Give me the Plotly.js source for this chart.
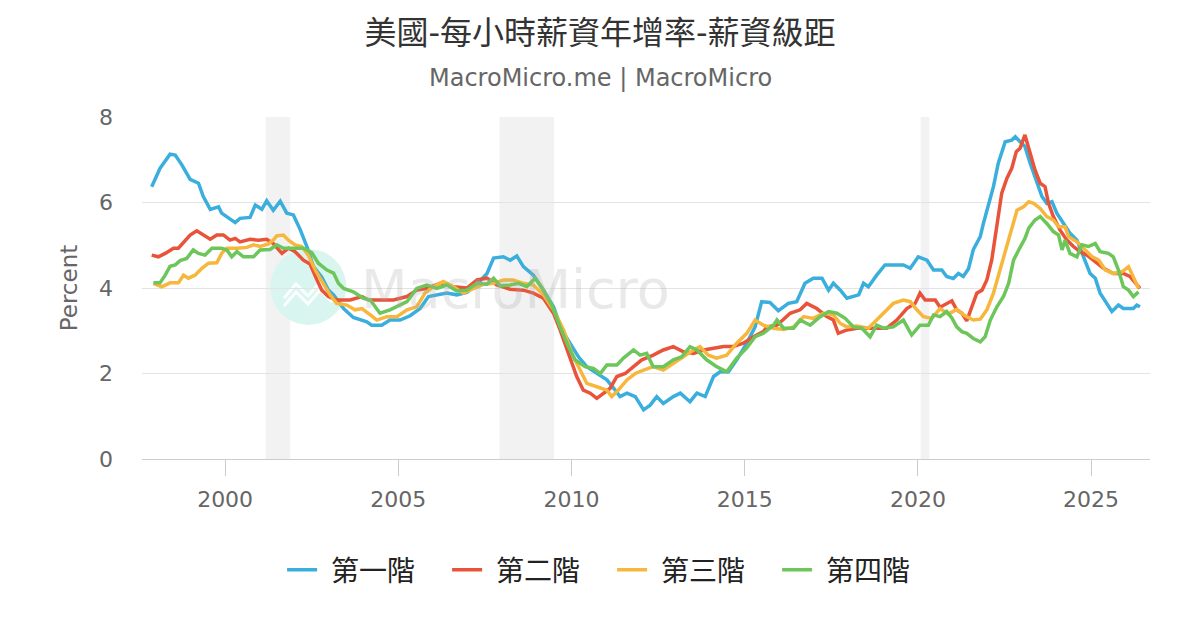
<!DOCTYPE html>
<html>
<head>
<meta charset="utf-8">
<script src="https://cdn.plot.ly/plotly-3.0.1.min.js"></script>
<style>
  html, body { margin: 0; padding: 0; background: #fff; }
  #chart { width: 1200px; height: 630px; }
</style>
</head>
<body>
<div id="chart"></div>
<script>
const FONT = "DejaVu Sans, Noto Sans CJK TC, sans-serif";

const seriesNames = ["第一階", "第二階", "第三階", "第四階"];
const seriesColors = ["#3aaedc", "#e8533a", "#f6b73c", "#6cc65a"];

// 第一階
const tier1X = [1997.88,1998.12,1998.41,1998.56,1998.75,1998.99,1999.23,1999.37,1999.57,1999.81,1999.90,2000.10,2000.29,2000.43,2000.72,2000.87,2001.06,2001.20,2001.39,2001.59,2001.78,2001.97,2002.17,2002.36,2002.55,2002.79,2002.98,2003.13,2003.42,2003.70,2004.09,2004.23,2004.52,2004.76,2005.05,2005.34,2005.63,2005.87,2006.11,2006.40,2006.69,2006.98,2007.27,2007.56,2007.75,2008.03,2008.23,2008.42,2008.61,2008.90,2009.19,2009.48,2009.72,2009.96,2010.20,2010.44,2010.73,2011.02,2011.26,2011.40,2011.60,2011.84,2012.08,2012.27,2012.46,2012.65,2012.94,2013.14,2013.42,2013.62,2013.86,2014.10,2014.29,2014.53,2014.77,2015.06,2015.30,2015.49,2015.73,2015.97,2016.26,2016.50,2016.74,2016.98,2017.23,2017.42,2017.56,2017.76,2017.95,2018.29,2018.43,2018.57,2018.81,2019.05,2019.34,2019.58,2019.78,2020.01,2020.26,2020.45,2020.69,2020.83,2021.02,2021.17,2021.31,2021.46,2021.60,2021.80,2021.89,2022.04,2022.18,2022.32,2022.52,2022.71,2022.81,2022.95,2023.09,2023.24,2023.43,2023.58,2023.72,2023.87,2024.01,2024.20,2024.39,2024.59,2024.78,2024.97,2025.12,2025.26,2025.45,2025.60,2025.79,2025.93,2026.22,2026.32,2026.41];
const tier1Y = [6.37,6.80,7.13,7.11,6.88,6.54,6.45,6.14,5.84,5.90,5.75,5.63,5.53,5.63,5.65,5.94,5.84,6.04,5.82,6.03,5.75,5.71,5.36,4.97,4.50,4.25,3.95,3.84,3.52,3.31,3.21,3.13,3.13,3.25,3.25,3.35,3.52,3.80,3.84,3.88,3.84,3.90,4.09,4.34,4.70,4.73,4.65,4.75,4.50,4.30,3.95,3.56,3.02,2.71,2.39,2.16,2.00,1.85,1.61,1.46,1.54,1.46,1.15,1.26,1.46,1.30,1.46,1.54,1.34,1.54,1.46,1.93,2.04,2.04,2.32,2.71,3.09,3.68,3.66,3.47,3.64,3.68,4.11,4.23,4.23,3.95,4.11,3.95,3.76,3.84,4.11,4.03,4.30,4.54,4.54,4.54,4.46,4.73,4.65,4.42,4.42,4.27,4.22,4.34,4.27,4.45,4.90,5.20,5.51,5.98,6.37,6.92,7.42,7.46,7.54,7.42,7.31,6.92,6.45,6.14,5.98,6.02,5.75,5.51,5.28,5.12,4.73,4.34,4.23,3.88,3.64,3.45,3.60,3.52,3.52,3.60,3.56];

// 第二階
const tier2X = [1997.88,1998.07,1998.27,1998.51,1998.65,1998.85,1998.99,1999.18,1999.37,1999.57,1999.76,1999.95,2000.14,2000.29,2000.43,2000.72,2000.96,2001.20,2001.39,2001.64,2001.83,2002.02,2002.26,2002.45,2002.65,2002.79,2002.98,2003.22,2003.61,2003.95,2004.14,2004.47,2004.86,2005.25,2005.53,2005.82,2006.21,2006.59,2006.98,2007.27,2007.56,2007.84,2008.23,2008.61,2008.90,2009.19,2009.48,2009.67,2009.96,2010.15,2010.34,2010.54,2010.73,2010.92,2011.11,2011.31,2011.55,2011.79,2012.03,2012.36,2012.65,2012.94,2013.23,2013.52,2013.81,2014.10,2014.39,2014.67,2014.96,2015.25,2015.54,2015.64,2015.93,2016.10,2016.31,2016.60,2016.79,2017.08,2017.37,2017.56,2017.70,2017.95,2018.24,2018.52,2018.81,2019.10,2019.39,2019.68,2019.92,2020.06,2020.21,2020.50,2020.64,2020.83,2020.98,2021.12,2021.27,2021.41,2021.56,2021.70,2021.85,2021.99,2022.13,2022.28,2022.42,2022.57,2022.71,2022.84,2022.95,2023.09,2023.24,2023.38,2023.53,2023.67,2023.77,2023.91,2024.10,2024.30,2024.49,2024.68,2024.88,2025.07,2025.36,2025.64,2025.93,2026.12,2026.32,2026.41];
const tier2Y = [4.77,4.73,4.81,4.93,4.93,5.12,5.24,5.34,5.24,5.14,5.24,5.24,5.12,5.16,5.08,5.14,5.12,5.14,5.04,4.81,4.93,4.85,4.65,4.56,4.19,3.95,3.80,3.72,3.72,3.80,3.72,3.72,3.72,3.80,3.95,3.99,4.11,4.03,4.00,4.19,4.23,4.07,3.97,3.95,3.88,3.76,3.41,3.02,2.39,1.93,1.61,1.54,1.42,1.54,1.65,1.93,2.00,2.16,2.32,2.43,2.55,2.63,2.51,2.47,2.55,2.59,2.63,2.63,2.71,2.86,2.98,3.09,3.13,3.25,3.41,3.49,3.64,3.52,3.33,3.25,2.94,3.02,3.06,3.06,3.06,3.06,3.25,3.52,3.64,3.88,3.72,3.72,3.55,3.64,3.70,3.49,3.41,3.23,3.56,3.88,3.95,4.19,4.65,5.43,6.22,6.57,6.80,7.19,7.27,7.58,7.15,6.76,6.45,6.37,5.98,5.67,5.36,5.12,4.97,4.85,4.77,4.65,4.46,4.34,4.34,4.27,4.07,3.99];

// 第三階
const tier3X = [1997.93,1998.17,1998.41,1998.65,1998.80,1998.94,1999.13,1999.33,1999.52,1999.76,1999.90,2000.05,2000.34,2000.63,2000.82,2001.01,2001.25,2001.39,2001.49,2001.68,2001.83,2002.02,2002.21,2002.40,2002.60,2002.79,2003.03,2003.22,2003.51,2003.75,2003.95,2004.19,2004.38,2004.67,2004.96,2005.25,2005.53,2005.77,2006.01,2006.30,2006.59,2006.88,2007.17,2007.46,2007.75,2008.03,2008.32,2008.61,2008.90,2009.19,2009.48,2009.77,2010.01,2010.25,2010.44,2010.73,2011.02,2011.16,2011.35,2011.60,2011.84,2012.08,2012.36,2012.65,2012.94,2013.23,2013.52,2013.71,2013.95,2014.19,2014.48,2014.77,2015.06,2015.30,2015.54,2015.83,2016.12,2016.41,2016.70,2016.98,2017.27,2017.56,2017.76,2017.95,2018.24,2018.57,2018.81,2019.05,2019.29,2019.58,2019.78,2019.97,2020.16,2020.40,2020.64,2020.88,2021.12,2021.36,2021.60,2021.80,2021.99,2022.18,2022.37,2022.57,2022.71,2022.86,2023.05,2023.20,2023.34,2023.53,2023.72,2023.91,2024.06,2024.25,2024.35,2024.59,2024.83,2025.03,2025.22,2025.41,2025.64,2025.89,2026.08,2026.22,2026.37];
const tier3Y = [4.11,4.03,4.12,4.12,4.30,4.23,4.30,4.46,4.58,4.59,4.81,4.93,4.93,4.95,5.01,4.97,5.03,5.12,5.22,5.24,5.12,5.01,4.97,4.77,4.42,4.15,3.84,3.64,3.60,3.49,3.52,3.37,3.25,3.33,3.33,3.49,3.56,3.88,4.03,4.15,4.03,3.88,3.99,4.09,4.11,4.19,4.19,4.11,4.07,3.84,3.49,3.02,2.47,2.08,1.77,1.69,1.61,1.46,1.61,1.85,2.00,2.08,2.16,2.08,2.24,2.39,2.55,2.63,2.43,2.36,2.43,2.71,2.94,3.25,3.13,3.06,3.03,3.09,3.33,3.29,3.41,3.37,3.17,3.09,3.11,3.06,3.25,3.45,3.64,3.72,3.68,3.49,3.33,3.29,3.52,3.39,3.50,3.35,3.25,3.27,3.49,3.88,4.42,4.97,5.43,5.82,5.90,6.02,5.98,5.86,5.67,5.59,5.43,5.43,5.20,5.08,4.89,4.73,4.65,4.42,4.34,4.38,4.50,4.27,3.99];

// 第四階
const tier4X = [1997.93,1998.12,1998.27,1998.41,1998.56,1998.70,1998.89,1999.08,1999.23,1999.42,1999.62,1999.90,2000.05,2000.19,2000.34,2000.53,2000.82,2001.01,2001.30,2001.49,2001.68,2001.97,2002.26,2002.50,2002.69,2002.94,2003.13,2003.27,2003.42,2003.70,2003.99,2004.19,2004.47,2004.76,2004.96,2005.25,2005.53,2005.82,2006.11,2006.40,2006.69,2006.98,2007.27,2007.56,2007.75,2007.94,2008.23,2008.47,2008.71,2008.95,2009.19,2009.43,2009.67,2009.91,2010.10,2010.39,2010.63,2010.83,2011.02,2011.31,2011.50,2011.79,2011.98,2012.17,2012.36,2012.65,2012.94,2013.18,2013.42,2013.62,2013.90,2014.19,2014.48,2014.77,2015.06,2015.30,2015.54,2015.83,2015.93,2016.12,2016.41,2016.60,2016.89,2017.18,2017.42,2017.66,2017.90,2018.14,2018.38,2018.62,2018.81,2019.01,2019.29,2019.58,2019.82,2020.06,2020.30,2020.45,2020.64,2020.83,2020.98,2021.12,2021.27,2021.41,2021.60,2021.80,2021.94,2022.09,2022.28,2022.47,2022.62,2022.76,2022.91,2023.09,2023.20,2023.38,2023.53,2023.72,2023.91,2024.06,2024.16,2024.25,2024.39,2024.59,2024.73,2024.92,2025.12,2025.26,2025.50,2025.64,2025.79,2025.93,2026.08,2026.22,2026.37];
const tier4Y = [4.12,4.12,4.30,4.51,4.54,4.64,4.69,4.89,4.81,4.77,4.93,4.93,4.89,4.73,4.85,4.73,4.73,4.89,4.90,5.01,4.93,4.93,4.93,4.83,4.58,4.42,4.35,4.11,3.99,3.91,3.76,3.72,3.41,3.49,3.56,3.68,3.99,4.07,3.99,4.07,3.93,3.95,4.11,4.09,4.23,4.05,4.07,4.11,4.03,4.23,3.95,3.60,3.09,2.63,2.32,2.16,2.12,2.00,2.20,2.20,2.36,2.55,2.43,2.47,2.16,2.16,2.32,2.39,2.63,2.55,2.32,2.16,2.04,2.36,2.60,2.86,2.94,3.13,3.25,3.06,3.06,3.25,3.13,3.33,3.45,3.41,3.29,3.09,3.06,2.86,3.13,3.06,3.09,3.25,2.90,3.13,3.13,3.37,3.33,3.45,3.30,3.09,2.98,2.94,2.82,2.74,2.86,3.25,3.56,3.80,4.11,4.65,4.89,5.16,5.40,5.59,5.67,5.51,5.32,5.24,4.89,5.12,4.81,4.73,5.01,4.97,5.04,4.85,4.81,4.73,4.42,4.03,3.95,3.80,3.91];

// recession periods (start, end)
const recessionStart = [2001.17, 2007.92, 2020.08];
const recessionEnd = [2001.88, 2009.50, 2020.33];

const xTicks = [2000, 2005, 2010, 2015, 2020, 2025];

const allX = [tier1X, tier2X, tier3X, tier4X];
const allY = [tier1Y, tier2Y, tier3Y, tier4Y];

// page centre (600px) expressed in plot-area fraction
const PAGE_MID = (600 - 142) / 1008;

const traces = seriesNames.map((name, i) => ({
  x: allX[i],
  y: allY[i],
  type: "scatter",
  mode: "lines",
  name: "\u00a0" + name,
  line: { color: seriesColors[i], width: 3.5 },
  hoverinfo: "skip"
}));

const shapes = recessionStart.map((s, i) => ({
  type: "rect",
  xref: "x",
  yref: "paper",
  x0: s,
  x1: recessionEnd[i],
  y0: 0,
  y1: 1,
  fillcolor: "#f2f2f2",
  line: { width: 0 },
  layer: "below"
}));

// watermark badge
shapes.push({
  type: "circle",
  xref: "paper",
  yref: "paper",
  xsizemode: "pixel",
  ysizemode: "pixel",
  xanchor: 0.165,
  yanchor: 0.503,
  x0: -38, x1: 38, y0: -38, y1: 38,
  fillcolor: "#d8f5ef",
  line: { width: 0 },
  layer: "below"
});
// little mountain mark inside the badge
["M0.1409,0.4708 L0.1528,0.5117 L0.1647,0.4766 L0.1766,0.5175 L0.1885,0.4825",
 "M0.1409,0.4474 L0.1528,0.4883 L0.1647,0.4532 L0.1766,0.4941 L0.1885,0.4591"].forEach(p => {
  shapes.push({
    type: "path", xref: "paper", yref: "paper", path: p,
    line: { color: "rgba(255,255,255,0.9)", width: 3 }, layer: "below"
  });
});

const layout = {
  width: 1200,
  height: 630,
  paper_bgcolor: "#ffffff",
  plot_bgcolor: "#ffffff",
  margin: { l: 142, r: 50, t: 117, b: 171 },
  font: { family: FONT, color: "#666" },
  title: {
    text: "美國-每小時薪資年增率-薪資級距",
    x: 0.5,
    xanchor: "center",
    xref: "container",
    yref: "container",
    y: 0.948,
    yanchor: "middle",
    font: { size: 32, color: "#333", family: FONT }
  },
  annotations: [
    {
      text: "MacroMicro.me | MacroMicro",
      xref: "paper", yref: "paper",
      x: PAGE_MID, y: 1.114,
      xanchor: "center", yanchor: "middle",
      showarrow: false,
      font: { size: 24, color: "#666", family: FONT }
    },
    {
      text: "MacroMicro",
      xref: "paper", yref: "paper",
      x: 0.371, y: 0.495,
      xanchor: "center", yanchor: "middle",
      showarrow: false,
      font: { size: 54, color: "rgba(170,170,170,0.26)", family: FONT }
    }
  ],
  shapes: shapes,
  xaxis: {
    range: [1997.6, 2026.7],
    tickvals: xTicks,
    ticks: "outside",
    ticklen: 16,
    tickcolor: "#ccc",
    tickwidth: 1,
    showgrid: false,
    showline: true,
    linecolor: "#ccc",
    linewidth: 1,
    zeroline: false,
    tickfont: { size: 22, color: "#666" },
    ticklabelstandoff: 5
  },
  yaxis: {
    range: [0, 8],
    dtick: 2,
    showgrid: true,
    gridcolor: "#e3e3e3",
    gridwidth: 1,
    zeroline: false,
    showline: false,
    ticks: "",
    tickfont: { size: 22, color: "#666" },
    ticklabelstandoff: 28,
    title: { text: "Percent", font: { size: 23, color: "#666" }, standoff: 14 }
  },
  legend: {
    orientation: "h",
    x: PAGE_MID + 0.012,
    xanchor: "center",
    y: -0.325,
    yanchor: "middle",
    font: { size: 28, color: "#222", family: FONT },
    entrywidth: 120,
    entrywidthmode: "pixels"
  },
  showlegend: true
};

Plotly.newPlot("chart", traces, layout, { displayModeBar: false, staticPlot: true });
</script>
</body>
</html>
